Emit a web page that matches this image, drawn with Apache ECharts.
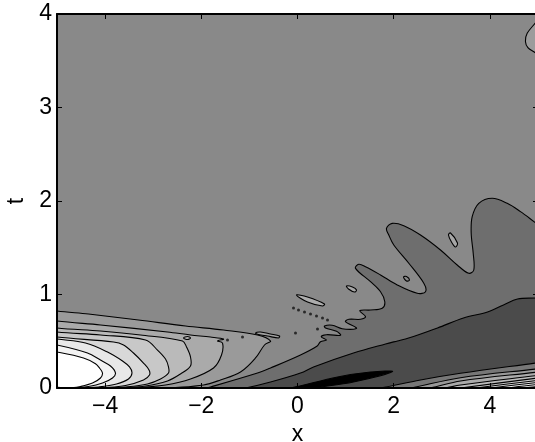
<!DOCTYPE html>
<html><head><meta charset="utf-8">
<style>html,body{margin:0;padding:0;background:#fff;overflow:hidden}#c{width:535px;height:442px}</style>
<script src="https://cdn.jsdelivr.net/npm/echarts@6/dist/echarts.min.js"></script>
</head><body><div id="c"></div>
<script>
const xTicks=[-4,-2,0,2,4];
const tTicks=[0,1,2,3,4];
const xLabels={'-4':'\u22124','-2':'\u22122','0':'0','2':'2','4':'4'};

const levelA=[[-5,.824],[-4.345,.791],[-3.306,.727],[-2.328,.663],[-1.538,.62],[-.832,.567],[-.561,.503],[-.686,.46],[-.873,.321],[-1.185,.171],[-1.601,.086],[-1.954,.032],[-2.64,0]];
const levelB=[[-5,.716],[-4.096,.674],[-2.703,.599],[-2.225,.567],[-1.809,.545],[-1.538,.524],[-1.663,.503],[-1.559,.481],[-1.58,.353],[-1.746,.214],[-2.225,.096],[-2.744,.032],[-3.368,0]];
const levelC=[[-5,.642],[-4.096,.61],[-3.264,.567],[-2.391,.503],[-2.308,.439],[-2.225,.332],[-2.225,.235],[-2.432,.15],[-2.703,.075],[-3.16,.021],[-3.68,0]];
const levelD=[[-5,.599],[-4.096,.567],[-3.16,.513],[-2.911,.406],[-2.744,.31],[-2.682,.225],[-2.682,.16],[-2.848,.096],[-3.119,.043],[-3.576,.011],[-3.992,0]];
const levelE=[[-5,.545],[-3.825,.492],[-3.617,.46],[-3.41,.374],[-3.202,.267],[-3.087,.193],[-3.077,.139],[-3.202,.086],[-3.576,.027],[-3.992,.005],[-4.304,0]];
const levelF=[[-5,.524],[-4.408,.481],[-3.95,.385],[-3.638,.289],[-3.493,.225],[-3.441,.16],[-3.514,.096],[-3.763,.043],[-4.137,.011],[-4.47,0]];
const levelG=[[-5,.46],[-4.366,.374],[-4.096,.299],[-3.888,.235],[-3.784,.16],[-3.846,.107],[-4.054,.053],[-4.345,.016],[-4.678,0]];
const levelH=[[-5,.385],[-4.449,.321],[-4.2,.26],[-4.117,.214],[-4.054,.16],[-4.096,.107],[-4.262,.053],[-4.512,.016],[-4.72,0]];

const waveFront=[[-1.913,0],[-1.809,.011],[-.832,.16],[-.561,.214],[.062,.353],[.41,.449],[.478,.495],[.603,.513],[.493,.549],[.603,.57],[.894,.564],[.811,.606],[.582,.642],[.561,.663],[.721,.671],[.929,.634],[1.17,.628],[1.227,.642],[.998,.709],[1.067,.735],[1.31,.735],[1.414,.763],[1.295,.827],[1.518,.834],[1.761,.852],[1.815,.923],[1.726,1.03],[1.518,1.137],[1.206,1.28],[1.274,1.323],[1.414,1.297],[1.726,1.209],[2.073,1.102],[2.489,1.013],[2.661,1.03],[2.626,1.12],[2.314,1.334],[2.002,1.529],[1.898,1.636],[1.85,1.708],[1.969,1.761],[2.21,1.736],[2.557,1.636],[2.973,1.476],[3.32,1.316],[3.561,1.227],[3.665,1.262],[3.653,1.441],[3.611,1.655],[3.632,1.832],[3.769,1.975],[4.048,2.029],[4.36,1.975],[4.636,1.886],[4.948,1.768],[5.156,1.69]];
const darkBand=[[-1.081,0],[-.561,.064],[.062,.16],[.333,.225],[1.164,.374],[1.83,.471],[2.079,.503],[2.245,.524],[2.412,.551],[2.911,.642],[3.451,.749],[3.95,.813],[4.283,.888],[4.574,.952],[4.948,.963],[5.16,.973]];
const blackLens=[[-.146,0],[.832,.118],[1.518,.171],[1.975,.176],[1.164,.064],[.333,0]];

const fan1=[[1.726,0],[2.557,.086],[3.389,.157],[4.948,.267],[5.2,.285]];
const fan2=[[2.349,0],[3.389,.11],[4.948,.203],[5.2,.218]];
const fan3=[[2.765,0],[3.389,.075],[4.948,.168],[5.2,.183]];
const fan4=[[3.077,0],[3.389,.032],[4.948,.132],[5.2,.148]];
const fan5=[[3.389,0],[4.948,.104],[5.2,.12]];
const fan6=[[3.701,0],[4.948,.078],[5.2,.094]];
const fan7=[[4.012,0],[4.948,.057],[5.2,.072]];
const fan8=[[4.324,0],[4.948,.035],[5.2,.05]];
const fan9=[[4.636,0],[4.948,.014],[5.2,.028]];

const cornerPatch=[[5.3,4.2],[5.0,3.95],[4.948,3.907],[4.775,3.793],[4.74,3.704],[4.79,3.64],[4.913,3.597],[5.2,3.5],[5.6,3.4],[5.6,4.4]];
const lens1=[[-.021,.995],[.208,.973],[.561,.898],[.52,.877],[.208,.92]];
const lens2=[[1.019,1.091],[1.143,1.08],[1.227,1.048],[1.185,1.027],[1.06,1.059]];
const lens3=[[3.139,1.636],[3.181,1.658],[3.326,1.551],[3.285,1.508],[3.202,1.561]];
const lens4=[[2.204,1.187],[2.266,1.193],[2.328,1.155],[2.266,1.144]];
const lens5=[[-.873,.588],[-.769,.599],[-.561,.578],[-.374,.556],[-.395,.535],[-.624,.556],[-.811,.572]];
const lens6=[[-2.37,.535],[-2.287,.551],[-2.225,.535],[-2.287,.519]];
const specks=[[-.083,.856],[.021,.834],[.146,.813],[.27,.791],[.395,.77],[.52,.749],[.624,.727],[-.042,.588],[.416,.631],[-1.455,.513],[-1.143,.545]];

// closed outlines: the extra vertices lie outside the axes ranges, so the clip cuts them off
const closeLeft=c=>{const e=c[c.length-1][0];return [[-5.6,c[0][1]+.05],...c,[e-.4,-.02],[e-.9,-.6],[-5.6,-.6]];};
const closeRight=c=>{const s=c[0][0],l=c[c.length-1];return [[s-.4,-.03],...c,[5.6,l[1]+.02],[5.6,-.6],[s-.9,-.6]];};
const closeBottom=c=>{const s=c[0][0],e=c[c.length-1][0];return [[s-.4,-.03],...c,[e-.3,-.03],[e-.3,-.6],[s-.4,-.6]];};

const layers=[
 [closeLeft(levelA),'#9a9a9a'],[closeLeft(levelB),'#aaaaaa'],[closeLeft(levelC),'#bababa'],[closeLeft(levelD),'#c8c8c8'],[closeLeft(levelE),'#d8d8d8'],[closeLeft(levelF),'#e8e8e8'],[closeLeft(levelG),'#f3f3f3'],[closeLeft(levelH),'#ffffff'],
 [closeRight(waveFront),'#6e6e6e'],[closeRight(darkBand),'#4b4b4b'],[closeBottom(blackLens),'#000000'],
 [closeRight(fan1),'#777777'],[closeRight(fan2),'#999999'],[closeRight(fan3),'#aaaaaa'],[closeRight(fan4),'#bbbbbb'],[closeRight(fan5),'#cccccc'],[closeRight(fan6),'#dddddd'],[closeRight(fan7),'#eeeeee'],[closeRight(fan8),'#f6f6f6'],[closeRight(fan9),'#ffffff'],
 [cornerPatch,'#9c9c9c'],[lens1,'#acacac'],[lens2,'#a6a6a6'],[lens3,'#a6a6a6'],[lens4,'#888888'],[lens5,'#a0a0a0'],[lens6,'#b4b4b4']
];

const contourSeries=layers.map(([pts,fill])=>({
 type:'custom',coordinateSystem:'cartesian2d',clip:true,silent:true,
 data:pts,
 renderItem:(p,api)=>p.dataIndex!==0?null:({
  type:'polygon',
  shape:{points:pts.map(q=>api.coord(q)),smooth:0.35},
  style:{fill:fill,stroke:'#000',lineWidth:1.1}
 })
}));

const label={fontFamily:'Liberation Sans',fontSize:23,color:'#000'};
const line={show:true,lineStyle:{color:'#000',width:2}};
const chart=echarts.init(document.getElementById('c'),null,{renderer:'canvas'});
chart.setOption({
 animation:false,
 backgroundColor:'#fff',
 grid:{left:57,top:14,width:481,height:374,show:true,backgroundColor:'#898989',borderWidth:0,outerBoundsMode:'none',containLabel:false},
 xAxis:[
  {type:'value',min:-5,max:5,position:'bottom',z:10,axisLine:{...line,onZero:false},splitLine:{show:false},
   axisTick:{show:true,inside:true,length:5,customValues:xTicks,lineStyle:{color:'#000',width:1}},
   axisLabel:{...label,margin:7,customValues:xTicks,formatter:v=>xLabels[String(v)]},
   name:'x',nameLocation:'middle',nameGap:32,nameTextStyle:{...label}},
  {type:'value',min:-5,max:5,position:'top',z:10,axisLine:{...line,onZero:false},splitLine:{show:false},
   axisTick:{show:true,inside:true,length:5,customValues:xTicks,lineStyle:{color:'#000',width:1}},axisLabel:{show:false}}
 ],
 yAxis:[
  {type:'value',min:0,max:4,interval:1,position:'left',z:10,axisLine:{...line,onZero:false},splitLine:{show:false},
   axisTick:{show:true,inside:true,length:5,lineStyle:{color:'#000',width:1}},
   axisLabel:{...label,margin:5,padding:[4,0,0,0]},
   name:'t',nameLocation:'middle',nameGap:29,nameTextStyle:{...label}},
  {type:'value',min:0,max:4,interval:1,position:'right',z:10,axisLine:{...line,onZero:false},splitLine:{show:false},
   axisTick:{show:true,inside:true,length:5,lineStyle:{color:'#000',width:1}},axisLabel:{show:false}}
 ],
 series:[...contourSeries,
  {type:'scatter',data:specks,symbol:'circle',symbolSize:3,silent:true,itemStyle:{color:'#111'},z:3}
 ]
});
</script></body></html>
